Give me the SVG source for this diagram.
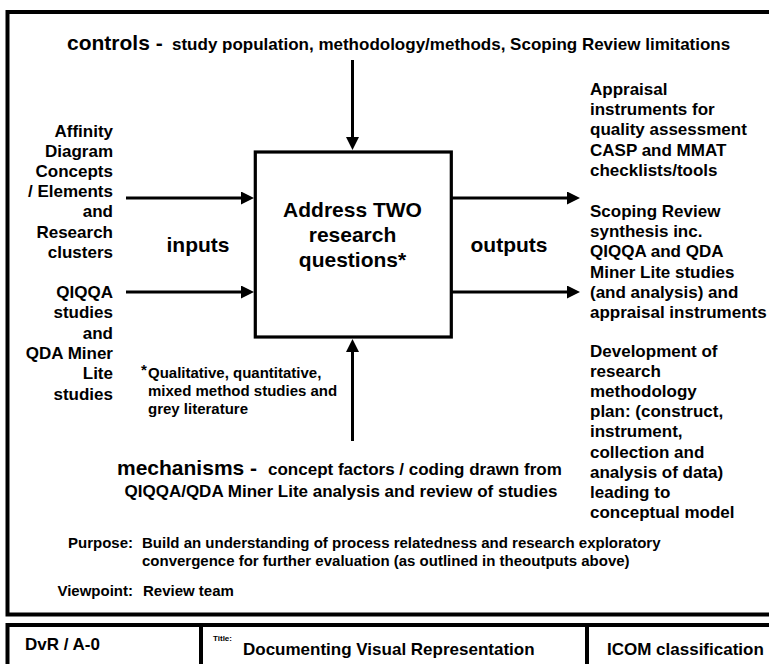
<svg xmlns="http://www.w3.org/2000/svg" width="769" height="664" viewBox="0 0 769 664">
<style>
text{font-family:"Liberation Sans",Arial,sans-serif;font-weight:bold;fill:#000}
.t17{font-size:17px}
.t21{font-size:21px}
.t15{font-size:15px}
.end{text-anchor:end}
.mid{text-anchor:middle}
.frame{fill:none;stroke:#000;stroke-width:4}
.conn{stroke:#000;stroke-width:3;fill:none}
</style>
<defs>
<marker id="ah" markerUnits="userSpaceOnUse" markerWidth="14" markerHeight="14" refX="3" refY="6.5" orient="auto">
<path d="M0,0 L13,6.5 L0,13 z" fill="#000"/>
</marker>
</defs>
<rect width="769" height="664" fill="#fff"/>
<g id="frame">
<rect class="frame" x="7.5" y="12" width="800" height="602.5"/>
<rect class="frame" x="7.5" y="625" width="800" height="60"/>
<line class="frame" x1="201" y1="625" x2="201" y2="664"/>
<line class="frame" x1="587" y1="625" x2="587" y2="664"/>
</g>
<g id="connectors">
<line class="conn" x1="352.5" y1="60" x2="352.5" y2="140" marker-end="url(#ah)"/>
<line class="conn" x1="352.5" y1="441" x2="352.5" y2="349" marker-end="url(#ah)"/>
<line class="conn" x1="126" y1="198" x2="244" y2="198" marker-end="url(#ah)"/>
<line class="conn" x1="126" y1="292" x2="244" y2="292" marker-end="url(#ah)"/>
<line class="conn" x1="452" y1="198" x2="570" y2="198" marker-end="url(#ah)"/>
<line class="conn" x1="452" y1="292" x2="570" y2="292" marker-end="url(#ah)"/>
</g>
<g id="activity">
<rect x="255.3" y="152" width="196" height="185" fill="#fff" stroke="#000" stroke-width="3.2"/>
<text class="t21 mid" x="352.5" y="217">Address TWO</text>
<text class="t21 mid" x="352.5" y="242">research</text>
<text class="t21 mid" x="352.5" y="267">questions*</text>
</g>
<g id="controls">
<text x="67" y="50"><tspan class="t21">controls -</tspan><tspan class="t17" x="172">study population, methodology/methods, Scoping Review limitations</tspan></text>
</g>
<g id="input-1">
<text class="t17 end" x="113" y="137">Affinity</text>
<text class="t17 end" x="113" y="157">Diagram</text>
<text class="t17 end" x="113" y="177.2">Concepts</text>
<text class="t17 end" x="113" y="197.3">/ Elements</text>
<text class="t17 end" x="113" y="217.4">and</text>
<text class="t17 end" x="113" y="237.5">Research</text>
<text class="t17 end" x="113" y="257.6">clusters</text>
</g>
<g id="input-2">
<text class="t17 end" x="113" y="298">QIQQA</text>
<text class="t17 end" x="113" y="318.3">studies</text>
<text class="t17 end" x="113" y="338.6">and</text>
<text class="t17 end" x="113" y="358.9">QDA Miner</text>
<text class="t17 end" x="113" y="379.2">Lite</text>
<text class="t17 end" x="113" y="399.5">studies</text>
</g>
<g id="inputs-label">
<text class="t21 mid" x="198" y="252">inputs</text>
</g>
<g id="outputs-label">
<text class="t21 mid" x="509" y="252">outputs</text>
</g>
<g id="output-1">
<text class="t17" x="590" y="95">Appraisal</text>
<text class="t17" x="590" y="115.2">instruments for</text>
<text class="t17" x="590" y="135.4">quality assessment</text>
<text class="t17" x="590" y="155.6">CASP and MMAT</text>
<text class="t17" x="590" y="175.8">checklists/tools</text>
</g>
<g id="output-2">
<text class="t17" x="590" y="217">Scoping Review</text>
<text class="t17" x="590" y="237.2">synthesis inc.</text>
<text class="t17" x="590" y="257.4">QIQQA and QDA</text>
<text class="t17" x="590" y="277.6">Miner Lite studies</text>
<text class="t17" x="590" y="297.8">(and analysis) and</text>
<text class="t17" x="590" y="318">appraisal instruments</text>
</g>
<g id="output-3">
<text class="t17" x="590" y="357">Development of</text>
<text class="t17" x="590" y="377.1">research</text>
<text class="t17" x="590" y="397.2">methodology</text>
<text class="t17" x="590" y="417.3">plan: (construct,</text>
<text class="t17" x="590" y="437.4">instrument,</text>
<text class="t17" x="590" y="457.5">collection and</text>
<text class="t17" x="590" y="477.6">analysis of data)</text>
<text class="t17" x="590" y="497.7">leading to</text>
<text class="t17" x="590" y="517.8">conceptual model</text>
</g>
<g id="footnote">
<text class="t15" x="141" y="375">*</text>
<text class="t15" x="148" y="378">Qualitative, quantitative,</text>
<text class="t15" x="148" y="396">mixed method studies and</text>
<text class="t15" x="148" y="414">grey literature</text>
</g>
<g id="mechanisms">
<text x="117" y="475"><tspan class="t21">mechanisms -</tspan><tspan class="t17" x="268">concept factors / coding drawn from</tspan></text>
<text class="t17 mid" x="341" y="497">QIQQA/QDA Miner Lite analysis and review of studies</text>
</g>
<g id="purpose">
<text class="t15 end" x="133" y="548">Purpose:</text>
<text class="t15" x="142" y="548">Build an understanding of process relatedness and research exploratory</text>
<text class="t15" x="142" y="566">convergence for further evaluation (as outlined in theoutputs above)</text>
<text class="t15 end" x="133" y="596">Viewpoint:</text>
<text class="t15" x="143" y="596">Review team</text>
</g>
<g id="title-block">
<text class="t17" x="25" y="650">DvR / A-0</text>
<text x="213" y="641" style="font-size:8px">Title:</text>
<text class="t17" x="243" y="655">Documenting Visual Representation</text>
<text class="t17" x="607" y="655">ICOM classification</text>
</g>
</svg>
